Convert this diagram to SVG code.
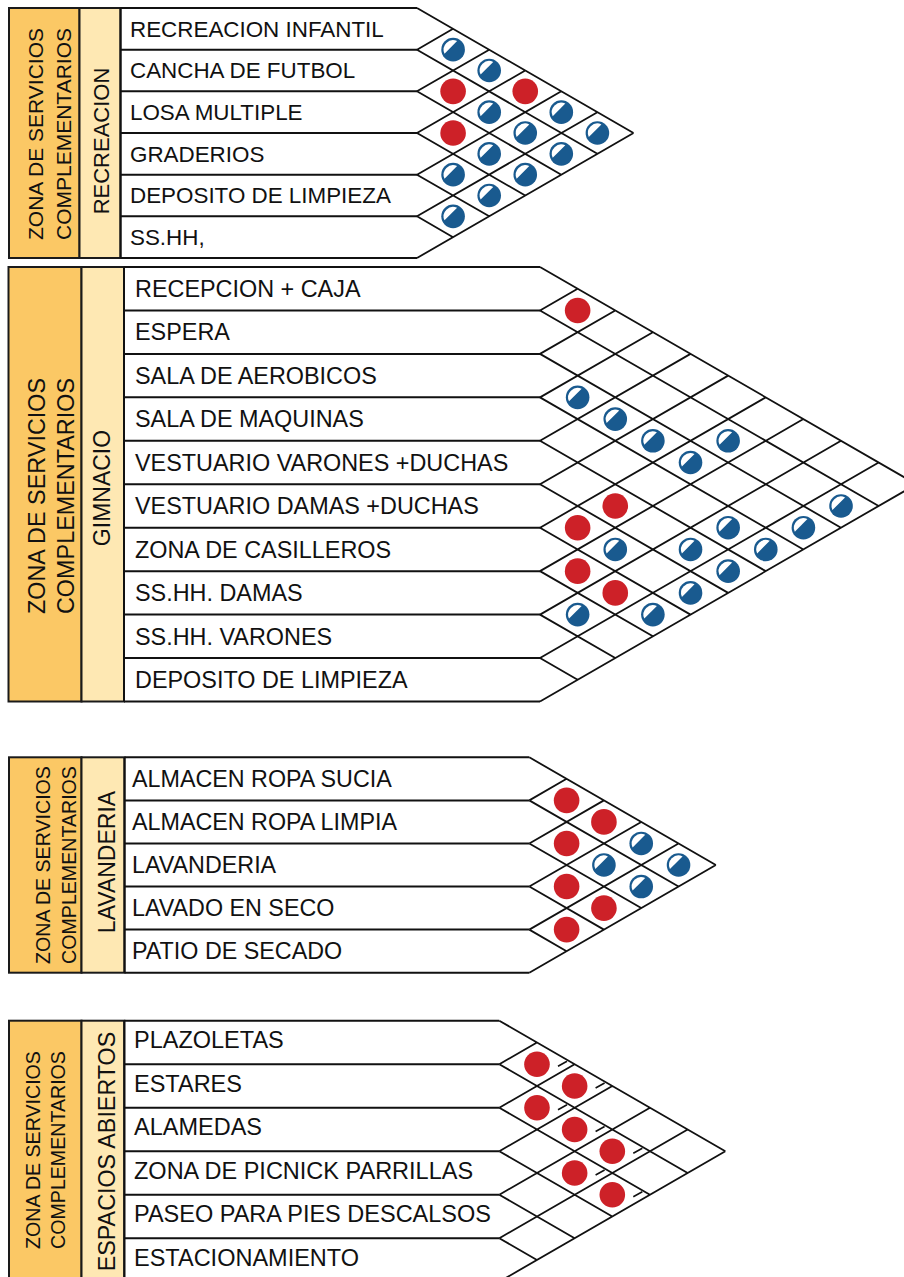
<svg xmlns="http://www.w3.org/2000/svg" xmlns:xlink="http://www.w3.org/1999/xlink" width="904" height="1277" viewBox="0 0 904 1277">
<style>
text{font-family:"Liberation Sans",Arial,sans-serif;fill:#111}
.zone{fill:#FBC865;stroke:#1a1a1a;stroke-width:2}
.sub{fill:#FEE8B3;stroke:#1a1a1a;stroke-width:2}
.ln{fill:none;stroke:#111;stroke-width:2}
.gr{fill:none;stroke:#111;stroke-width:1.8}
.tk{fill:none;stroke:#111;stroke-width:1.6}
.s1{font-size:22.4px}.s2{font-size:23.4px}.s3{font-size:23.3px}.s4{font-size:23.5px}
.red{fill:#CD2128}
</style>
<defs>
<g id="bd"><circle r="11.8" fill="#195A8F"/><path d="M-8.6,4 A9.5,9.5 0 0 1 4,-8.6 Z" fill="#fff"/></g>
<circle id="rd" r="12.8" class="red"/>
</defs>
<rect width="904" height="1277" fill="#fff"/>

<!-- SECTION 1 -->
<g id="sec-recreacion">
<g id="s1-zone"><rect class="zone" x="9" y="8" width="70.5" height="250"/>
<text class="s1" style="font-size:21px" text-anchor="middle" transform="translate(42.5,134) rotate(-90)">ZONA DE SERVICIOS</text>
<text class="s1" style="font-size:21px" text-anchor="middle" transform="translate(71,134) rotate(-90)">COMPLEMENTARIOS</text></g>
<g id="s1-sub"><rect class="sub" x="79.5" y="8" width="41" height="250"/>
<text class="s1" style="font-size:22px" text-anchor="middle" transform="translate(108.5,141) rotate(-90)">RECREACION</text></g>
<g id="s1-rows">
<path class="ln" d="M120.5,8H417M120.5,49.67H417M120.5,91.33H417M120.5,133H417M120.5,174.67H417M120.5,216.33H417M120.5,258H417M120.5,8V258"/>
<g id="s1-r0"><text class="s1" x="130" y="36.6">RECREACION INFANTIL</text></g>
<g id="s1-r1"><text class="s1" x="130" y="78.3">CANCHA DE FUTBOL</text></g>
<g id="s1-r2"><text class="s1" x="130" y="120">LOSA MULTIPLE</text></g>
<g id="s1-r3"><text class="s1" x="130" y="161.6">GRADERIOS</text></g>
<g id="s1-r4"><text class="s1" x="130" y="203.3">DEPOSITO DE LIMPIEZA</text></g>
<g id="s1-r5"><text class="s1" x="130" y="245">SS.HH,</text></g>
</g>
</g>

<!-- SECTION 2 -->
<g id="sec-gimnacio">
<g id="s2-zone"><rect class="zone" x="8.5" y="267" width="73" height="434.5"/>
<text class="s2" text-anchor="middle" transform="translate(45,496) rotate(-90)">ZONA DE SERVICIOS</text>
<text class="s2" text-anchor="middle" transform="translate(73.5,496) rotate(-90)">COMPLEMENTARIOS</text></g>
<g id="s2-sub"><rect class="sub" x="81.5" y="267" width="42.5" height="434.5"/>
<text class="s2" style="font-size:23px" text-anchor="middle" transform="translate(110,488) rotate(-90)">GIMNACIO</text></g>
<g id="s2-rows">
<path class="ln" d="M124,267H540M124,310.45H540M124,353.9H540M124,397.35H540M124,440.8H540M124,484.25H540M124,527.7H540M124,571.15H540M124,614.6H540M124,658.05H540M124,701.5H540M124,267V701.5"/>
<g id="s2-r0"><text class="s2" x="135" y="296.9">RECEPCION + CAJA</text></g>
<g id="s2-r1"><text class="s2" x="135" y="340.4">ESPERA</text></g>
<g id="s2-r2"><text class="s2" x="135" y="383.8">SALA DE AEROBICOS</text></g>
<g id="s2-r3"><text class="s2" x="135" y="427.3">SALA DE MAQUINAS</text></g>
<g id="s2-r4"><text class="s2" x="135" y="470.7">VESTUARIO VARONES +DUCHAS</text></g>
<g id="s2-r5"><text class="s2" x="135" y="514.2">VESTUARIO DAMAS +DUCHAS</text></g>
<g id="s2-r6"><text class="s2" x="135" y="557.6">ZONA DE CASILLEROS</text></g>
<g id="s2-r7"><text class="s2" x="135" y="601.1">SS.HH. DAMAS</text></g>
<g id="s2-r8"><text class="s2" x="135" y="644.5">SS.HH. VARONES</text></g>
<g id="s2-r9"><text class="s2" x="135" y="688">DEPOSITO DE LIMPIEZA</text></g>
</g>
</g>

<!-- SECTION 3 -->
<g id="sec-lavanderia">
<g id="s3-zone"><rect class="zone" x="9" y="757.3" width="72.5" height="215.4"/>
<text class="s3" style="font-size:19.6px" text-anchor="middle" transform="translate(49.5,865) rotate(-90)">ZONA DE SERVICIOS</text>
<text class="s3" style="font-size:19.6px" text-anchor="middle" transform="translate(75.5,865) rotate(-90)">COMPLEMENTARIOS</text></g>
<g id="s3-sub"><rect class="sub" x="81.5" y="757.3" width="43" height="215.4"/>
<text class="s3" style="font-size:23px" text-anchor="middle" transform="translate(115,862) rotate(-90)">LAVANDERIA</text></g>
<g id="s3-rows">
<path class="ln" d="M124.5,757.3H529.3M124.5,800.38H529.3M124.5,843.46H529.3M124.5,886.54H529.3M124.5,929.62H529.3M124.5,972.7H529.3M124.5,757.3V972.7"/>
<g id="s3-r0"><text class="s3" x="132" y="786.9">ALMACEN ROPA SUCIA</text></g>
<g id="s3-r1"><text class="s3" x="132" y="830">ALMACEN ROPA LIMPIA</text></g>
<g id="s3-r2"><text class="s3" x="132" y="873">LAVANDERIA</text></g>
<g id="s3-r3"><text class="s3" x="132" y="916.1">LAVADO EN SECO</text></g>
<g id="s3-r4"><text class="s3" x="132" y="959.2">PATIO DE SECADO</text></g>
</g>
</g>

<!-- SECTION 4 -->
<g id="sec-espacios">
<g id="s4-zone"><rect class="zone" x="9" y="1020.7" width="72.5" height="261"/>
<text class="s4" style="font-size:19.6px" text-anchor="middle" transform="translate(40,1150) rotate(-90)">ZONA DE SERVICIOS</text>
<text class="s4" style="font-size:19.6px" text-anchor="middle" transform="translate(65,1150) rotate(-90)">COMPLEMENTARIOS</text></g>
<g id="s4-sub"><rect class="sub" x="81.5" y="1020.7" width="42.8" height="261"/>
<text class="s4" style="font-size:23.3px" text-anchor="middle" transform="translate(115,1151.5) rotate(-90)">ESPACIOS ABIERTOS</text></g>
<g id="s4-rows">
<path class="ln" d="M124.3,1020.7H499.3M124.3,1064.2H499.3M124.3,1107.7H499.3M124.3,1151.2H499.3M124.3,1194.7H499.3M124.3,1238.2H499.3M124.3,1281.7H499.3M124.3,1020.7V1281.7"/>
<g id="s4-r0"><text class="s4" x="134" y="1048">PLAZOLETAS</text></g>
<g id="s4-r1"><text class="s4" x="134" y="1091.5">ESTARES</text></g>
<g id="s4-r2"><text class="s4" x="134" y="1135">ALAMEDAS</text></g>
<g id="s4-r3"><text class="s4" x="134" y="1178.5">ZONA DE PICNICK PARRILLAS</text></g>
<g id="s4-r4"><text class="s4" x="134" y="1222">PASEO PARA PIES DESCALSOS</text></g>
<g id="s4-r5"><text class="s4" x="134" y="1265.5">ESTACIONAMIENTO</text></g>
</g>
</g>

<!-- CONNECTORS: relation grids -->
<g id="connectors">
<path id="grid1" class="gr" d="M417,8L633.5,133M417,49.67L597.4,153.83M417,91.33L561.3,174.67M417,133L525.25,195.5M417,174.67L489.2,216.33M417,216.33L453.1,237.17M417,49.67L453.1,28.83M417,91.33L489.2,49.67M417,133L525.25,70.5M417,174.67L561.3,91.33M417,216.33L597.4,112.17M417,258L633.5,133"/>
<path id="grid2" class="gr" d="M540,267L916.28,484.25M540,310.45L878.65,505.98M540,353.9L841.02,527.7M540,397.35L803.39,549.43M540,440.8L765.77,571.15M540,484.25L728.14,592.88M540,527.7L690.51,614.6M540,571.15L652.88,636.33M540,614.6L615.26,658.05M540,658.05L577.63,679.78M540,310.45L577.63,288.73M540,353.9L615.26,310.45M540,397.35L652.88,332.18M540,440.8L690.51,353.9M540,484.25L728.14,375.63M540,527.7L765.77,397.35M540,571.15L803.39,419.08M540,614.6L841.02,440.8M540,658.05L878.65,462.53M540,701.5L916.28,484.25"/>
<path id="grid3" class="gr" d="M529.3,757.3L715.84,865M529.3,800.38L678.53,886.54M529.3,843.46L641.22,908.08M529.3,886.54L603.91,929.62M529.3,929.62L566.61,951.16M529.3,800.38L566.61,778.84M529.3,843.46L603.91,800.38M529.3,886.54L641.22,821.92M529.3,929.62L678.53,843.46M529.3,972.7L715.84,865"/>
<path id="grid4" class="gr" d="M499.3,1020.7L725.33,1151.2M499.3,1064.2L687.66,1172.95M499.3,1107.7L649.98,1194.7M499.3,1151.2L612.31,1216.45M499.3,1194.7L574.64,1238.2M499.3,1238.2L536.97,1259.95M499.3,1064.2L536.97,1042.45M499.3,1107.7L574.64,1064.2M499.3,1151.2L612.31,1085.95M499.3,1194.7L649.98,1107.7M499.3,1238.2L687.66,1129.45M499.3,1281.7L725.33,1151.2"/>
</g>

<!-- RELATION MARKS -->
<g id="marks1">
<use href="#bd" x="453.1" y="49.67"/><use href="#bd" x="489.2" y="70.5"/><use href="#rd" x="453.1" y="91.33"/><use href="#rd" x="525.25" y="91.33"/>
<use href="#bd" x="489.2" y="112.17"/><use href="#bd" x="561.3" y="112.17"/><use href="#rd" x="453.1" y="133"/><use href="#bd" x="525.25" y="133"/>
<use href="#bd" x="597.4" y="133"/><use href="#bd" x="489.2" y="153.83"/><use href="#bd" x="561.3" y="153.83"/><use href="#bd" x="453.1" y="174.67"/>
<use href="#bd" x="525.25" y="174.67"/><use href="#bd" x="489.2" y="195.5"/><use href="#bd" x="453.1" y="216.33"/>
</g>
<g id="marks2">
<use href="#rd" x="577.63" y="310.45"/><use href="#bd" x="577.63" y="397.35"/><use href="#bd" x="615.26" y="419.08"/><use href="#bd" x="652.89" y="440.8"/>
<use href="#bd" x="728.15" y="440.8"/><use href="#bd" x="690.52" y="462.53"/><use href="#rd" x="615.26" y="505.98"/><use href="#rd" x="577.63" y="527.7"/>
<use href="#bd" x="728.15" y="527.7"/><use href="#bd" x="803.41" y="527.7"/><use href="#bd" x="841.04" y="505.98"/><use href="#bd" x="615.26" y="549.43"/>
<use href="#bd" x="690.52" y="549.43"/><use href="#bd" x="765.78" y="549.43"/><use href="#rd" x="577.63" y="571.15"/><use href="#bd" x="728.15" y="571.15"/>
<use href="#rd" x="615.26" y="592.88"/><use href="#bd" x="690.52" y="592.88"/><use href="#bd" x="577.63" y="614.6"/><use href="#bd" x="652.89" y="614.6"/>
</g>
<g id="marks3">
<use href="#rd" x="566.61" y="800.38"/><use href="#rd" x="603.92" y="821.92"/><use href="#rd" x="566.61" y="843.46"/><use href="#bd" x="641.23" y="843.46"/>
<use href="#bd" x="603.92" y="865"/><use href="#bd" x="678.54" y="865"/><use href="#rd" x="566.61" y="886.54"/><use href="#bd" x="641.23" y="886.54"/>
<use href="#rd" x="603.92" y="908.08"/><use href="#rd" x="566.61" y="929.62"/>
</g>
<g id="marks4">
<use href="#rd" x="536.97" y="1064.2"/><use href="#rd" x="574.64" y="1085.95"/><use href="#rd" x="536.97" y="1107.7"/><use href="#rd" x="574.64" y="1129.45"/>
<use href="#rd" x="612.31" y="1151.2"/><use href="#rd" x="574.64" y="1172.95"/><use href="#rd" x="612.31" y="1194.7"/>
<path class="tk" d="M558,1066.2l9,-5M595.6,1088l9,-5M558,1109.7l9,-5M595.6,1131.5l9,-5M633.3,1153.2l9,-5M595.6,1175l9,-5M633.3,1196.7l9,-5"/>
</g>
</svg>
